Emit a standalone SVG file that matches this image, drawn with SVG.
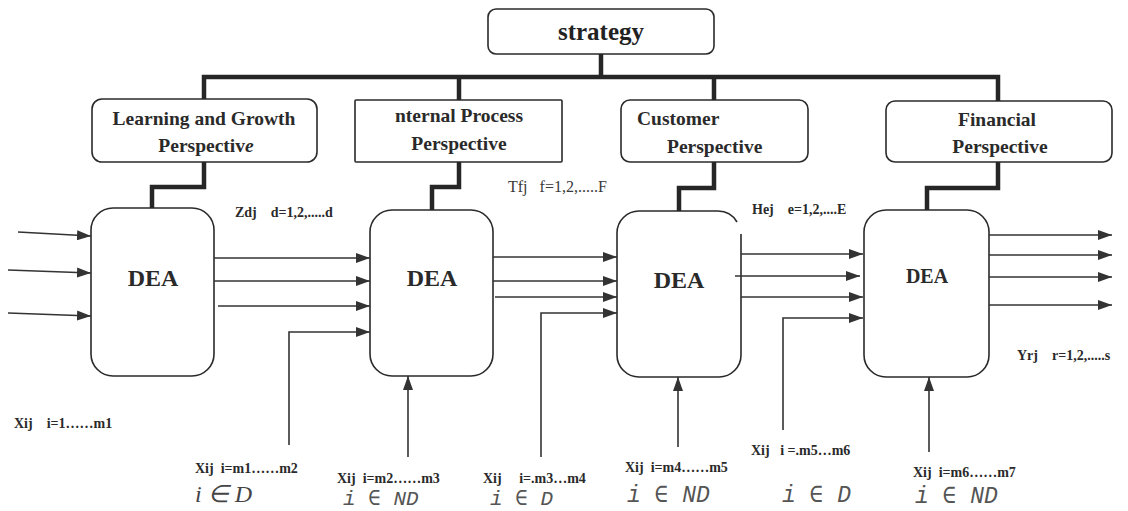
<svg xmlns="http://www.w3.org/2000/svg" width="1128" height="511" viewBox="0 0 1128 511">
  <style>
    .box { fill: #fff; stroke: #2a2a2a; stroke-width: 1.6; }
    .bus { fill: none; stroke: #262626; stroke-width: 4.5; stroke-linejoin: miter; }
    .ln { fill: none; stroke: #333; stroke-width: 1.6; }
    .arr { fill: none; stroke: #333; stroke-width: 1.6; marker-end: url(#ah); }
    .title { font-family: "Liberation Serif", "Times New Roman", serif; font-weight: bold; font-size: 19.5px; fill: #2a2a2a; }
    .big { font-family: "Liberation Serif", "Times New Roman", serif; font-weight: bold; font-size: 25px; fill: #222; }
    .dea { font-family: "Liberation Serif", "Times New Roman", serif; font-weight: bold; font-size: 24px; fill: #2a2a2a; text-anchor: middle; }
    .lab { font-family: "Liberation Serif", "Times New Roman", serif; font-weight: bold; font-size: 14px; fill: #2a2a2a; white-space: pre; }
    .labr { font-family: "Liberation Serif", "Times New Roman", serif; font-size: 16px; fill: #3a3a3a; white-space: pre; }
    .set { font-family: "Liberation Serif", "Times New Roman", serif; font-style: italic; font-size: 24px; fill: #444; }
    .setm { font-family: "Liberation Mono", "Courier New", monospace; font-style: italic; font-size: 23px; fill: #555; white-space: pre; }
  </style>
  <defs>
    <marker id="ah" markerUnits="userSpaceOnUse" markerWidth="14" markerHeight="10" refX="14" refY="5" orient="auto">
      <path d="M0,0 L14,5 L0,10 z" fill="#333"/>
    </marker>
  </defs>

  <rect width="1128" height="511" fill="#fff"/>

  <!-- hierarchy: strategy to the four perspectives -->
  <g id="strategy">
    <rect class="box" x="488" y="9" width="226" height="45" rx="8"/>
    <text class="big" x="601" y="40" text-anchor="middle">strategy</text>
  </g>

  <g id="learning">
    <rect class="box" x="92" y="99" width="225" height="63" rx="10"/>
    <text class="title" x="204" y="125" text-anchor="middle">Learning and Growth</text>
    <text class="title" x="206" y="152" text-anchor="middle">Perspectiv<tspan font-style="italic">e</tspan></text>
  </g>

  <g id="internal">
    <rect class="box" x="355" y="100" width="207" height="62" rx="1"/>
    <text class="title" x="459" y="122" text-anchor="middle">nternal Process</text>
    <text class="title" x="459" y="150" text-anchor="middle">Perspective</text>
  </g>

  <g id="customer">
    <rect class="box" x="621" y="100" width="187" height="62" rx="9"/>
    <text class="title" x="637" y="125">Customer</text>
    <text class="title" x="667" y="153">Perspective</text>
  </g>

  <g id="financial">
    <rect class="box" x="886" y="101" width="226" height="61" rx="9"/>
    <text class="title" x="997" y="126" text-anchor="middle">Financial</text>
    <text class="title" x="1000" y="153" text-anchor="middle">Perspective</text>
  </g>

  <!-- DEA stages -->
  <g id="dea1">
    <rect class="box" x="91" y="208" width="123" height="168" rx="22"/>
    <text class="dea" x="153" y="286">DEA</text>
  </g>
  <g id="dea2">
    <rect class="box" x="370" y="210" width="123" height="166" rx="22"/>
    <text class="dea" x="432" y="286">DEA</text>
  </g>
  <g id="dea3">
    <path class="box" d="M737,222 A22,22 0 0 0 718,211 H639 A22,22 0 0 0 617,233 V355 A22,22 0 0 0 639,377 H719 A22,22 0 0 0 741,355 V234"/>
    <text class="dea" x="679" y="288">DEA</text>
  </g>
  <g id="dea4">
    <rect class="box" x="864" y="210" width="125" height="167" rx="22"/>
    <text class="dea" x="927" y="283" style="font-size:20px">DEA</text>
  </g>

  <!-- connectors -->
  <g id="connectors">
    <!-- strategy bus -->
    <polyline class="bus" points="601,54 601,77"/>
    <polyline class="bus" points="204,99 204,77 998,77 998,101"/>
    <polyline class="bus" points="459,77 459,100"/>
    <polyline class="bus" points="714,77 714,100"/>

    <!-- perspective to DEA links -->
    <polyline class="bus" points="204,162 204,187 152,187 152,208"/>
    <polyline class="bus" points="459,162 459,187 432,187 432,210"/>
    <polyline class="bus" points="714,162 714,188 679,188 679,211"/>
    <polyline class="bus" points="998,162 998,188 927,188 927,210"/>

    <!-- inputs to first DEA -->
    <line class="arr" x1="18" y1="232" x2="91" y2="236"/>
    <line class="arr" x1="8" y1="270" x2="91" y2="273"/>
    <line class="arr" x1="8" y1="313" x2="91" y2="316"/>

    <!-- DEA1 to DEA2 -->
    <line class="arr" x1="214" y1="258" x2="370" y2="258"/>
    <line class="arr" x1="214" y1="281" x2="370" y2="281"/>
    <line class="arr" x1="218" y1="306" x2="370" y2="306"/>
    <polyline class="arr" points="289,445 289,332 370,332"/>
    <line class="arr" x1="408" y1="457" x2="408" y2="376"/>

    <!-- DEA2 to DEA3 -->
    <line class="arr" x1="493" y1="257" x2="617" y2="257"/>
    <line class="arr" x1="493" y1="281" x2="617" y2="281"/>
    <line class="arr" x1="495" y1="297" x2="617" y2="297"/>
    <polyline class="arr" points="541,457 541,313 617,313"/>
    <line class="arr" x1="678" y1="447" x2="678" y2="377"/>

    <!-- DEA3 to DEA4 -->
    <line class="arr" x1="741" y1="254" x2="863" y2="254"/>
    <line class="arr" x1="735" y1="276" x2="860" y2="276"/>
    <line class="arr" x1="741" y1="297" x2="863" y2="297"/>
    <polyline class="arr" points="783,430 783,318 863,318"/>
    <line class="arr" x1="929" y1="452" x2="929" y2="377"/>

    <!-- final outputs -->
    <line class="arr" x1="989" y1="235" x2="1112" y2="235"/>
    <line class="arr" x1="989" y1="255" x2="1112" y2="255"/>
    <line class="arr" x1="989" y1="277" x2="1112" y2="277"/>
    <line class="arr" x1="989" y1="305" x2="1112" y2="305"/>
  </g>

  <!-- variable labels -->
  <g id="labels">
    <text class="lab" x="235" y="217" xml:space="preserve">Zdj    d=1,2,.....d</text>
    <text class="labr" x="508" y="192" xml:space="preserve">Tfj   f=1,2,.....F</text>
    <text class="lab" x="752" y="214" xml:space="preserve">Hej    e=1,2,....E</text>
    <text class="lab" x="1017" y="360" xml:space="preserve">Yrj    r=1,2,.....s</text>

    <text class="lab" x="14" y="428" xml:space="preserve">Xij    i=1……m1</text>
    <text class="lab" x="195" y="473" xml:space="preserve">Xij  i=m1……m2</text>
    <text class="lab" x="337" y="483" xml:space="preserve">Xij  i=m2……m3</text>
    <text class="lab" x="483" y="483" xml:space="preserve">Xij     i=.m3…m4</text>
    <text class="lab" x="625" y="472" xml:space="preserve">Xij  i=m4……m5</text>
    <text class="lab" x="751" y="455" xml:space="preserve">Xij   i =.m5…m6</text>
    <text class="lab" x="913" y="477" xml:space="preserve">Xij  i=m6……m7</text>

    <text class="set" x="195" y="502">i ∈ D</text>
    <text class="setm" x="343" y="505" style="font-size:21px">i ∈ ND</text>
    <text class="setm" x="490" y="505" style="font-size:21px">i ∈ D</text>
    <text class="setm" x="627" y="502">i ∈ ND</text>
    <text class="setm" x="782" y="502">i ∈ D</text>
    <text class="setm" x="915" y="503">i ∈ ND</text>
  </g>
</svg>
